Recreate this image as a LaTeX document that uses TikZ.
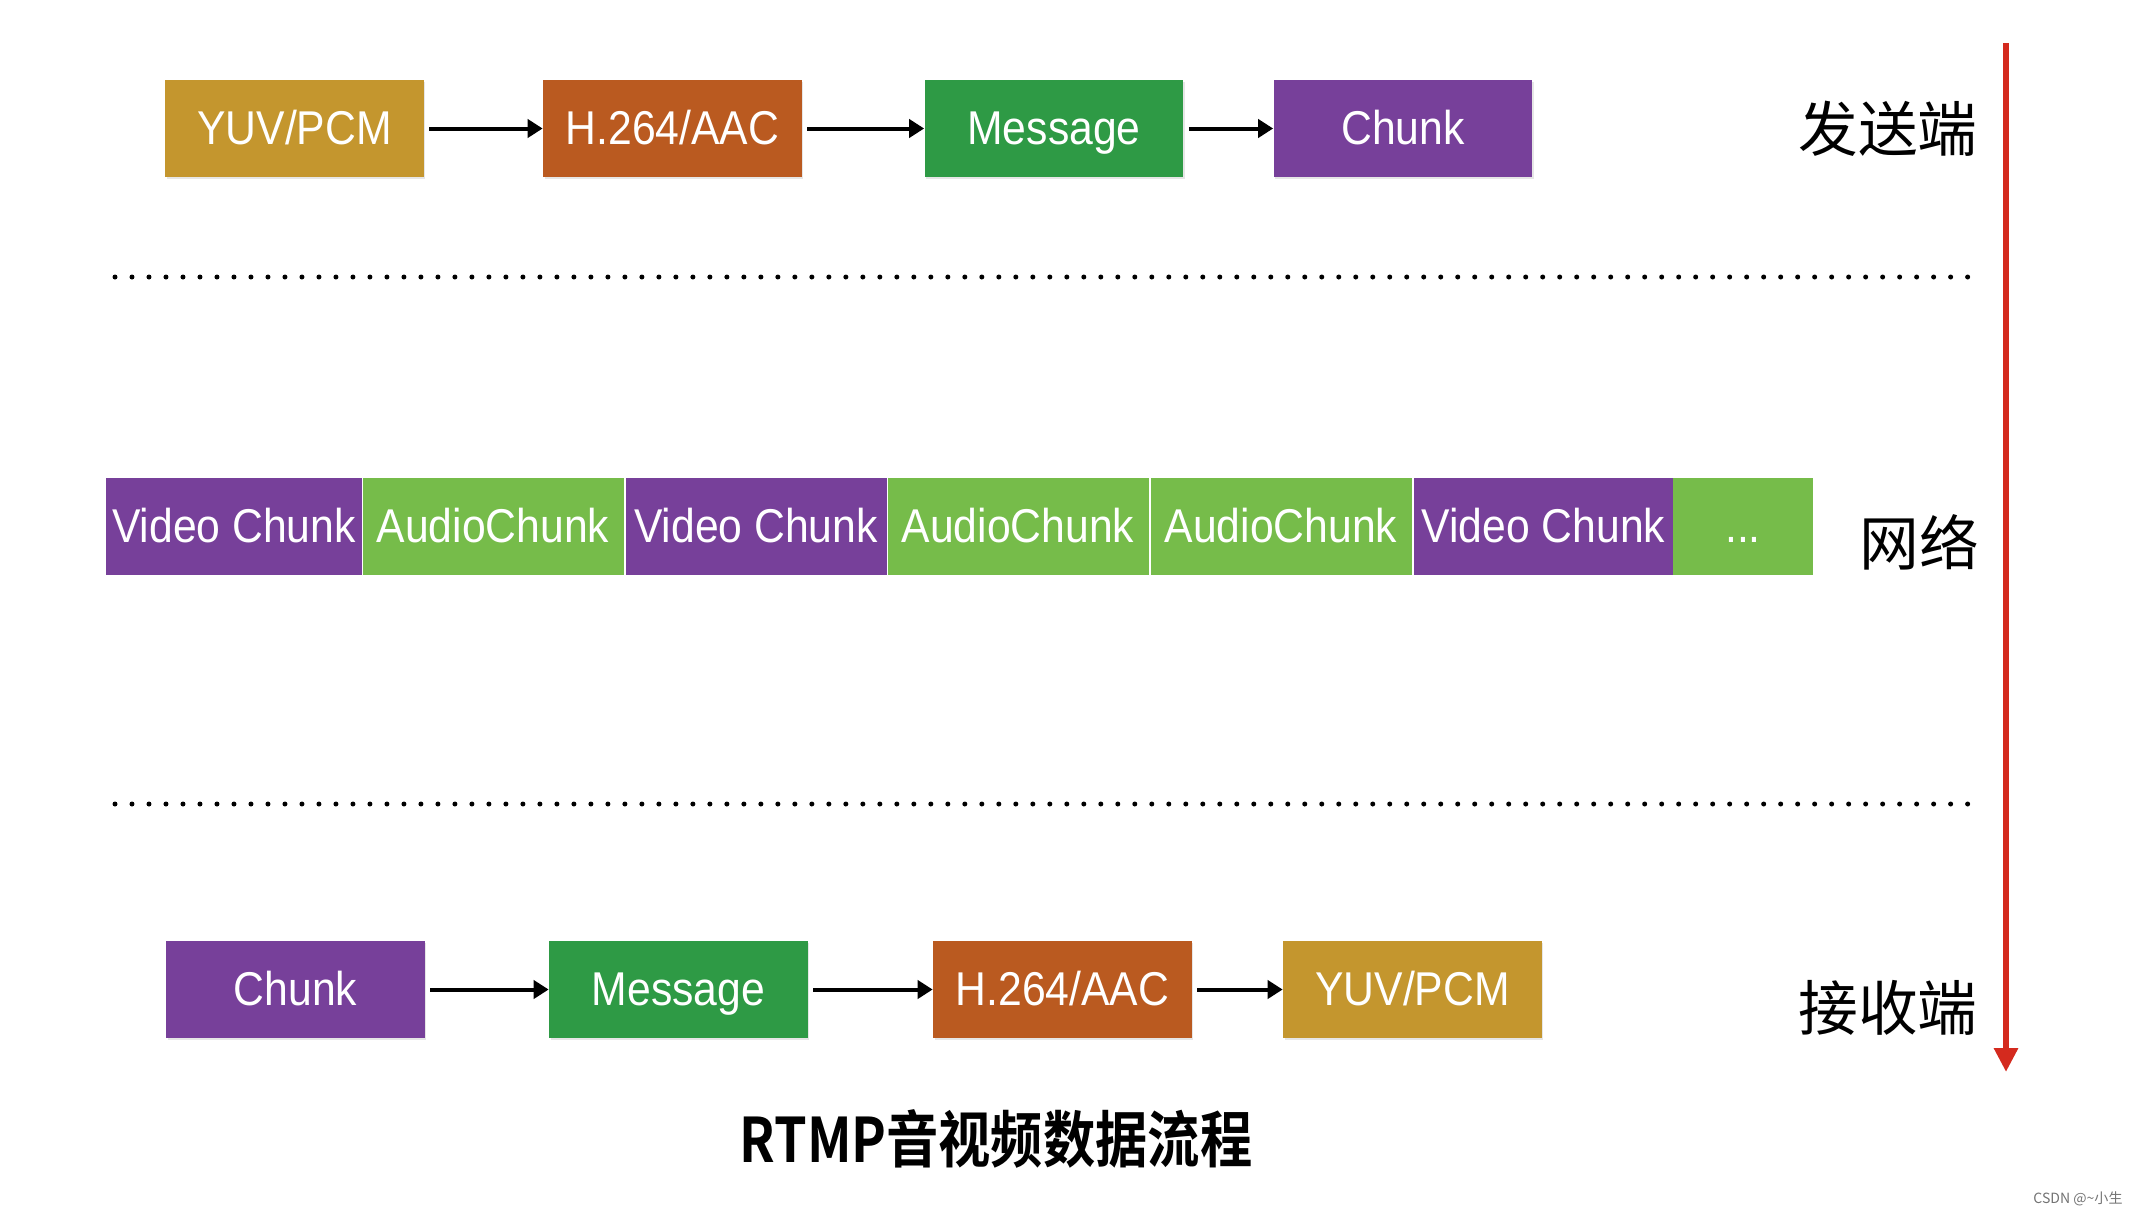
\documentclass[tikz,border=0pt]{standalone}
\usepackage{fontspec}
\setmainfont{Liberation Sans}
\newfontfamily\boxfont{Liberation Sans}[FakeStretch=0.9]
\newfontfamily\cjk{Noto Sans CJK SC}
\newfontfamily\titlefont{Noto Sans CJK SC Bold}[FakeStretch=0.85]
\usetikzlibrary{arrows.meta,shadows}

\definecolor{rawcol}{HTML}{C4962E}
\definecolor{codeccol}{HTML}{BA5A20}
\definecolor{msgcol}{HTML}{2E9A45}
\definecolor{chunkcol}{HTML}{77409A}
\definecolor{audiocol}{HTML}{76BC4A}
\definecolor{downcol}{HTML}{D42A1E}

\tikzset{
  stage/.style={minimum width=5.18cm, minimum height=1.94cm, inner sep=0pt, text=white,
    font=\boxfont\fontsize{27}{27}\selectfont, text height=19.5pt, text depth=1pt,
    drop shadow={shadow xshift=0.03cm, shadow yshift=-0.04cm, opacity=0.2}},
  piece/.style={minimum height=1.94cm, inner sep=0pt, text=white,
    font=\boxfont\fontsize{27}{27}\selectfont, text height=19.5pt, text depth=1pt},
  flow/.style={-{Triangle[length=0.3cm,width=0.36cm]}, line width=0.08cm, shorten <=0.1cm},
  sep/.style={line width=0.1cm, dash pattern=on 0pt off 0.34cm, line cap=round},
  side/.style={font=\cjk\fontsize{34}{34}\selectfont}
}

\begin{document}
\begin{tikzpicture}[x=0.02cm, y=-0.02cm]
  \useasboundingbox (0,0) rectangle (2136,1214);

  % sender
  \node[stage, fill=rawcol]   (sraw)   at (294.5,128.5) {YUV/PCM};
  \node[stage, fill=codeccol] (scodec) at (672.5,128.5) {H.264/AAC};
  \node[stage, fill=msgcol]   (smsg)   at (1054,128.5)  {Message};
  \node[stage, fill=chunkcol] (schunk) at (1403,128.5)  {Chunk};
  \draw[flow] (sraw) -- (scodec);
  \draw[flow] (scodec) -- (smsg);
  \draw[flow] (smsg) -- (schunk);
  \node[side] (sendlbl) at (1888,129) {发送端};

  % separators
  \coordinate (sepa1) at (115,277);
  \coordinate (sepa2) at (1972,277);
  \coordinate (sepb1) at (115,804);
  \coordinate (sepb2) at (1972,804);
  \draw[sep] (sepa1) -- (sepa2);
  \draw[sep] (sepb1) -- (sepb2);

  % network
  \foreach \cx/\w/\col/\txt [count=\i] in {
      234/256/chunkcol/Video Chunk,
      493/261/audiocol/AudioChunk,
      756/261/chunkcol/Video Chunk,
      1018/261/audiocol/AudioChunk,
      1281/261/audiocol/AudioChunk,
      1543.5/260/chunkcol/Video Chunk}
    \node[piece, fill=\col, minimum width=\w*0.02cm] (net\i) at (\cx,526.5) {\txt};
  \node[piece, fill=audiocol, minimum width=2.8cm] (net7) at (1743,526.5) {...};
  \node[side] (netlbl) at (1919,542) {网络};

  % receiver
  \node[stage, fill=chunkcol] (rchunk) at (295.5,989.5)  {Chunk};
  \node[stage, fill=msgcol]   (rmsg)   at (678.5,989.5)  {Message};
  \node[stage, fill=codeccol] (rcodec) at (1062.5,989.5) {H.264/AAC};
  \node[stage, fill=rawcol]   (rraw)   at (1412.5,989.5) {YUV/PCM};
  \draw[flow] (rchunk) -- (rmsg);
  \draw[flow] (rmsg) -- (rcodec);
  \draw[flow] (rcodec) -- (rraw);
  \node[side] (recvlbl) at (1888,1008) {接收端};

  % time axis
  \coordinate (ttop) at (2006,43);
  \coordinate (tbot) at (2006,1072);
  \draw[downcol, line width=0.12cm, -{Triangle[length=0.48cm,width=0.46cm]}] (ttop) -- (tbot);

  % caption
  \node[font=\titlefont\fontsize{35}{35}\selectfont] (title) at (996,1139) {RTMP音视频数据流程};
  \node[font=\cjk\fontsize{8}{8}\selectfont, text=black!55] (mark) at (2078,1199) {CSDN @\textasciitilde 小生};
\end{tikzpicture}
\end{document}
